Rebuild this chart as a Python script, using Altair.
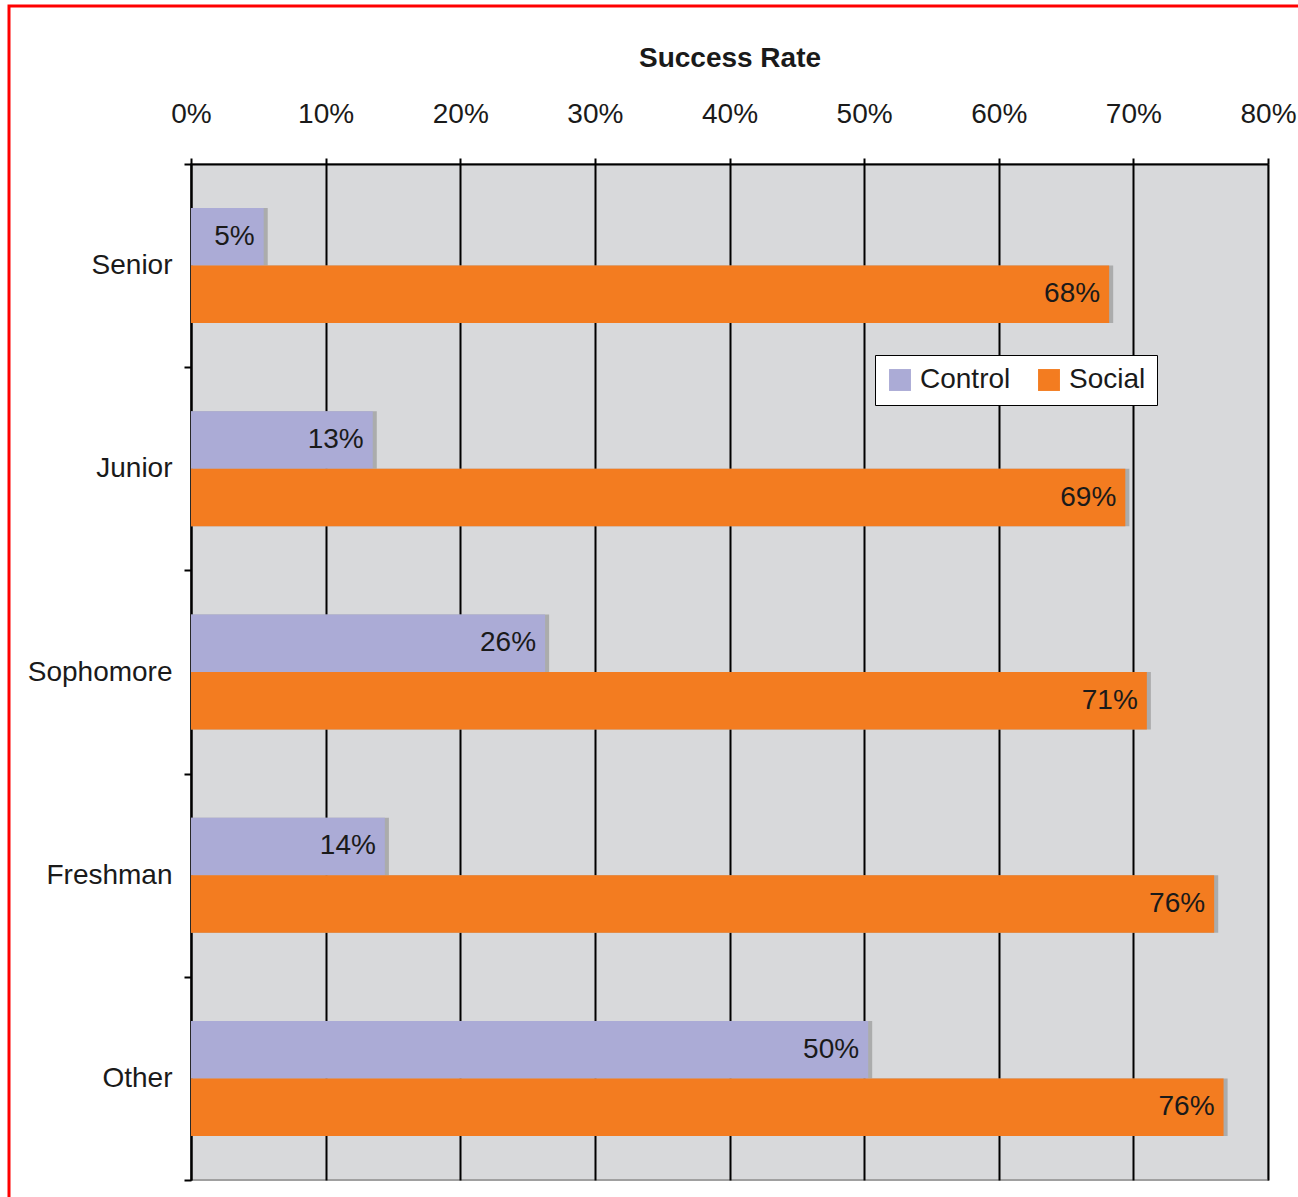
import altair as alt
import pandas as pd

grades = ["Senior", "Junior", "Sophomore", "Freshman", "Other"]
series = ["Control", "Social"]
control = [5.4, 13.5, 26.3, 14.4, 50.3]
social = [68.2, 69.4, 71.0, 76.0, 76.7]
x_ticks = [0, 10, 20, 30, 40, 50, 60, 70, 80]
colors = ["#ABABD6", "#F37C20"]

rows = []
for g, c, s in zip(grades, control, social):
    rows.append({"grade": g, "series": "Control", "value": c})
    rows.append({"grade": g, "series": "Social", "value": s})
df = pd.DataFrame(rows)

FONT = "Liberation Sans"
XSCALE = alt.Scale(domain=[0, 80], nice=False)

y_enc = alt.Y(
    "grade:N",
    sort=grades,
    scale=alt.Scale(paddingInner=0, paddingOuter=0),
    axis=alt.Axis(
        title=None,
        domainColor="black",
        domainWidth=2,
        tickColor="black",
        tickWidth=2,
        tickSize=7,
        tickBand="extent",
        labelFontSize=28,
        labelFont=FONT,
        labelColor="#1a1a1a",
        labelPadding=12,
        grid=False,
    ),
)
yoff = alt.YOffset("series:N", sort=series,
                   scale=alt.Scale(paddingInner=0, paddingOuter=0.767))

x_enc = alt.X(
    "value:Q",
    scale=XSCALE,
    axis=alt.Axis(
        orient="top",
        title="Success Rate",
        titleFont=FONT,
        titleFontSize=28,
        titleFontWeight="bold",
        titleColor="#1a1a1a",
        titlePadding=28,
        values=x_ticks,
        labelExpr="datum.value + '%'",
        labelFlush=False,
        labelFont=FONT,
        labelFontSize=28,
        labelColor="#1a1a1a",
        labelPadding=30,
        domainColor="black",
        domainWidth=2,
        tickColor="black",
        tickWidth=2,
        tickSize=6,
        grid=True,
        gridColor="black",
        gridWidth=2,
    ),
)

base = alt.Chart(df)

shadow = base.transform_calculate(shadow="datum.value + 0.3").mark_bar(
    color="#A6A6A6", opacity=0.9
).encode(
    x=alt.X("shadow:Q", scale=XSCALE),
    y=y_enc,
    yOffset=yoff,
)

bars = base.mark_bar().encode(
    x=x_enc,
    y=y_enc,
    yOffset=yoff,
    color=alt.Color(
        "series:N",
        sort=series,
        scale=alt.Scale(domain=series, range=colors),
        legend=alt.Legend(
            title=None,
            orient="none",
            legendX=684,
            legendY=191,
            direction="horizontal",
            fillColor="white",
            strokeColor="black",
            padding=11,
            symbolType="square",
            symbolSize=480,
            symbolStrokeWidth=0,
            labelFont=FONT,
            labelFontSize=28,
            labelColor="#1a1a1a",
            labelOffset=6,
            columnPadding=24,
        ),
    ),
)

labels = base.transform_calculate(lbl="floor(datum.value) + '%'").mark_text(
    align="right", baseline="middle", dx=-9, font=FONT, fontSize=28, color="#1a1a1a"
).encode(
    x=alt.X("value:Q", scale=XSCALE),
    y=y_enc,
    yOffset=yoff,
    text="lbl:N",
)

border = alt.Chart(pd.DataFrame({"a": [0]})).mark_rect(
    fill="transparent", stroke="#FF0000", strokeWidth=3
).encode(
    x=alt.value(-182), x2=alt.value(1109), y=alt.value(-158), y2=alt.value(1036)
)

chart = alt.layer(shadow, bars, labels, border).properties(
    width=1077,
    height=1016,
    autosize=alt.AutoSizeParams(type="none"),
    padding={"left": 191, "top": 164, "right": 30, "bottom": 17},
    background="white",
).configure_view(
    fill="#D8D9DB", stroke="#A0A0A0", strokeWidth=2
)

chart.save("out.html", embed_options={"renderer": "svg", "actions": False})
